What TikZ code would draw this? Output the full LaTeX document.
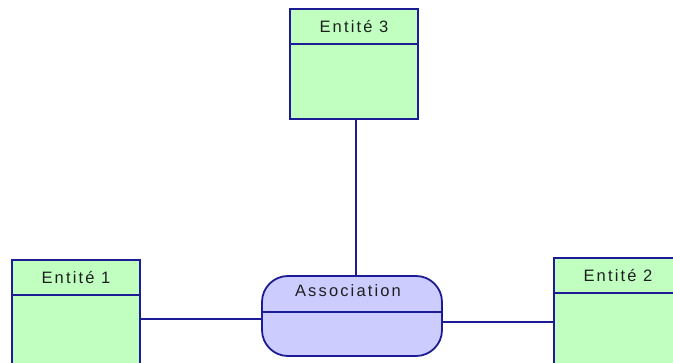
\documentclass[tikz,border=0pt]{standalone}
\usepackage{fontspec}
\setmainfont{Liberation Sans}[LetterSpace=13]
\usetikzlibrary{calc}
\definecolor{entfill}{RGB}{192,255,192}
\definecolor{assocfill}{RGB}{204,204,255}
\definecolor{edgeblue}{RGB}{28,28,150}
\definecolor{txt}{RGB}{30,30,30}
\tikzset{
  entity/.style={draw=edgeblue, line width=1.8pt, fill=entfill,
    minimum width=128pt, minimum height=110pt, inner sep=0pt},
  assoc/.style={draw=edgeblue, line width=1.8pt, fill=assocfill,
    rounded corners=26pt, minimum width=180pt, minimum height=80pt, inner sep=0pt},
  divider/.style={draw=edgeblue, line width=1.8pt},
  link/.style={draw=edgeblue, line width=1.5pt},
  label/.style={font=\fontsize{16.5}{19}\selectfont, text=txt, inner sep=0pt}
}
\begin{document}
\begin{tikzpicture}[x=1pt,y=-1pt]
  \useasboundingbox (0,0) rectangle (673,363);
  \clip (0,0) rectangle (673,363);
  \fill[white] (0,0) rectangle (673,363);

  % entities
  \node[entity] (e3) at (354,64) {};
  \node[entity] (e1) at (76,315) {};
  \node[entity] (e2) at (618,313) {};
  % association
  \node[assoc] (as) at (352,316) {};

  % connectors
  \draw[link] (e3.south -| 356,0) -- (as.north -| 356,0);
  \draw[link] (e1.east |- 0,319) -- (as.west |- 0,319);
  \draw[link] (as.east |- 0,322) -- (e2.west |- 0,322);

  % header separators and titles
  \foreach \n/\t in {e3/Entité 3, e1/Entité 1, e2/Entité 2}{
    \draw[divider] ($(\n.north west)+(0,36)$) -- ($(\n.north east)+(0,36)$);
    \node[label] at ($(\n.north)+(0,18)$) {\t};
  }
  \draw[divider] ($(as.west)+(0,-4)$) -- ($(as.east)+(0,-4)$);
  \node[label] at ($(as.north)+(-4,15.5)$) {Association};
\end{tikzpicture}
\end{document}
